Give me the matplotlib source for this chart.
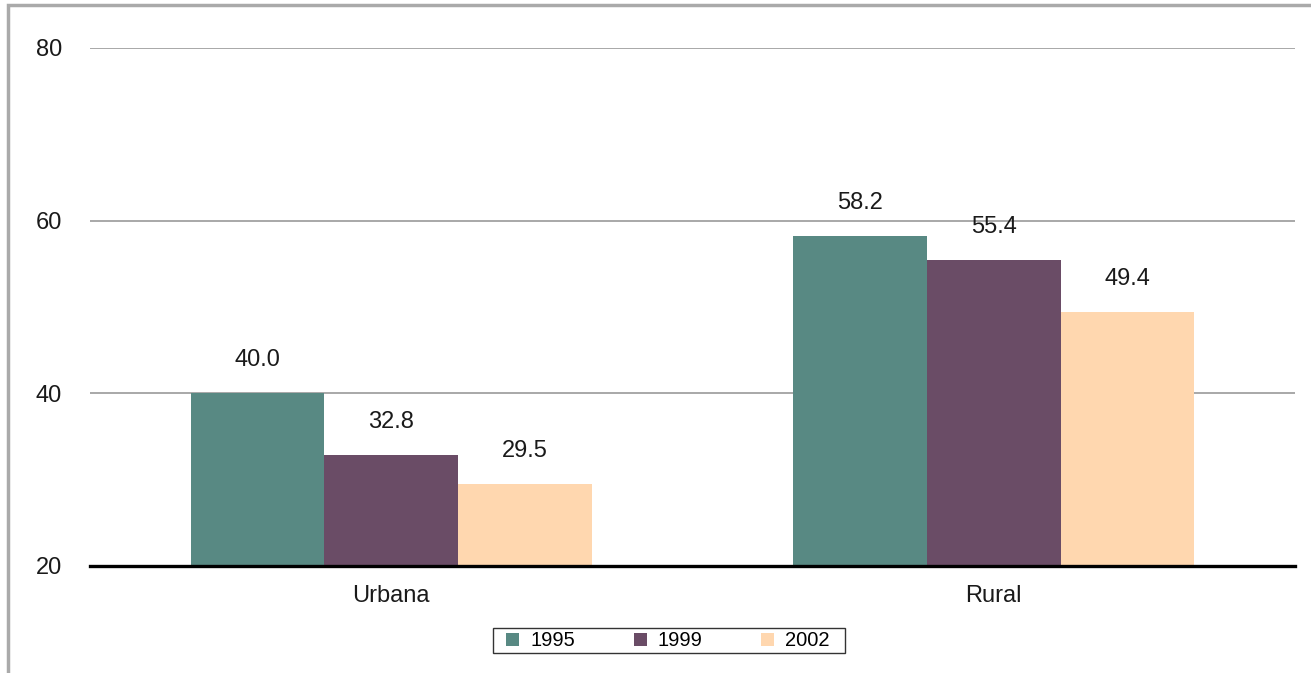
import matplotlib.pyplot as plt
from matplotlib.patches import Rectangle
import numpy as np

categories = ["Urbana", "Rural"]
years = ["1995", "1999", "2002"]
values_1995 = [40.0, 58.2]
values_1999 = [32.8, 55.4]
values_2002 = [29.5, 49.4]
colors = ["#588983", "#6a4c66", "#ffd7af"]

plt.rcParams['font.family'] = ['Liberation Sans', 'DejaVu Sans']

W, H = 1311, 673
fig = plt.figure(figsize=(W / 100, H / 100), dpi=100)
ax = fig.add_axes([90 / W, 1 - 566 / H, (1295 - 90) / W, (566 - 48) / H])

x = np.arange(len(categories))
width = 0.222
series = [values_1995, values_1999, values_2002]
for i, (vals, year, c) in enumerate(zip(series, years, colors)):
    pos = x + (i - 1) * width
    ax.bar(pos, vals, width, color=c, label=year, zorder=3)
    for px, v in zip(pos, vals):
        ax.annotate(f"{v:.1f}", (px, v), xytext=(0, 24), textcoords="offset points",
                    ha="center", va="center", fontsize=17, color="#1a1a1a")

ax.set_xlim(-0.5, 1.5)
ax.set_ylim(20, 80)
ax.set_yticks([20, 40, 60, 80])
ax.yaxis.grid(True, color="#999999", linewidth=1.2, zorder=0)
ax.axhline(20, color="black", linewidth=2.4, zorder=4, clip_on=False)
ax.set_xticks(x)
ax.set_xticklabels(categories)
ax.tick_params(axis="both", length=0, labelsize=17, labelcolor="#1a1a1a")
ax.tick_params(axis="y", pad=20)
ax.tick_params(axis="x", pad=14)
for s in ax.spines.values():
    s.set_visible(False)

# legend without its own frame, box drawn separately
leg = ax.legend(loc="center", bbox_to_anchor=(668 / W, 1 - 641 / H),
                bbox_transform=fig.transFigure, ncol=3, frameon=False,
                fontsize=14.5, handlelength=0.65, handleheight=0.65, columnspacing=2.9,
                borderpad=0, handletextpad=0.55, borderaxespad=0)
fig.patches.append(Rectangle((493 / W, 1 - 653 / H), (845 - 493) / W, 25 / H,
                             transform=fig.transFigure, fill=False,
                             edgecolor="#333333", linewidth=1.0))

# outer frame (cut off at right and bottom)
fig.patches.append(Rectangle((8 / W, -0.1), 1.2, 1 - 5 / H + 0.1, transform=fig.transFigure,
                             fill=False, edgecolor="#aaaaaa", linewidth=2.5))

fig.savefig("out.png", dpi=100)
